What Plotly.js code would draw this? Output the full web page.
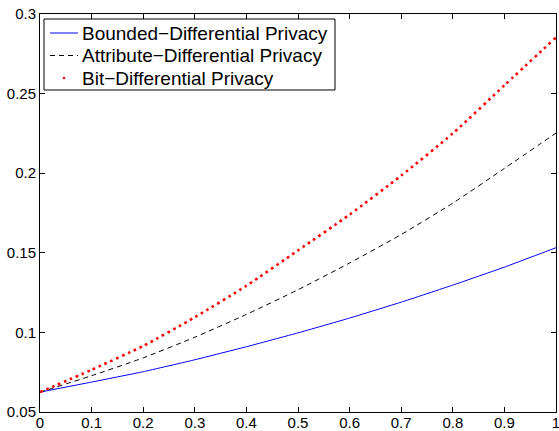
<!DOCTYPE html>
<html>
<head>
<meta charset="utf-8">
<script src="https://cdn.plot.ly/plotly-3.0.1.min.js"></script>
<style>html,body{margin:0;padding:0;background:#fff;}#chart{width:559px;height:431px;}</style>
</head>
<body>
<div id="chart"></div>
<script>
const xValues = [0, 0.1, 0.2, 0.3, 0.4, 0.5, 0.6, 0.7, 0.8, 0.9, 1.0];
const boundedDP = [0.0625, 0.0688, 0.0753, 0.0828, 0.0910, 0.0997, 0.1090, 0.1190, 0.1297, 0.1410, 0.1532];
const attributeDP = [0.0625, 0.0728, 0.0840, 0.0970, 0.1113, 0.1268, 0.1436, 0.1615, 0.1812, 0.2030, 0.2252];
const bitDP = [0.0625, 0.0765, 0.0915, 0.1095, 0.1293, 0.1515, 0.1740, 0.1985, 0.2250, 0.2552, 0.2853];
const seriesNames = ["Bounded\u2212Differential Privacy", "Attribute\u2212Differential Privacy", "Bit\u2212Differential Privacy"];
const xTickVals = [0, 0.1, 0.2, 0.3, 0.4, 0.5, 0.6, 0.7, 0.8, 0.9, 1];
const xTickText = ["0", "0.1", "0.2", "0.3", "0.4", "0.5", "0.6", "0.7", "0.8", "0.9", "1"];
const yTickVals = [0.05, 0.1, 0.15, 0.2, 0.25, 0.3];
const yTickText = ["0.05", "0.1", "0.15", "0.2", "0.25", "0.3"];

const FONT = "Liberation Sans, Arial, Helvetica, sans-serif";

// plot-area pixel helpers for the hand-drawn MATLAB-style legend (paper coords)
const PL = 40, PR = 556, PT = 14, PB = 412;
const px = v => (v - PL) / (PR - PL);
const py = v => (PB - v) / (PB - PT);

const traces = [
  {x: xValues, y: boundedDP, name: seriesNames[0], mode: "lines", line: {color: "#0000ff", width: 1, shape: "spline", smoothing: 0.3}},
  {x: xValues, y: attributeDP, name: seriesNames[1], mode: "lines", line: {color: "#000000", width: 1, dash: "5px,4px", shape: "spline", smoothing: 0.6}},
  {x: xValues, y: bitDP, name: seriesNames[2], mode: "lines", line: {color: "#ff0000", width: 2.6, dash: "2.6px,3.8px", shape: "spline", smoothing: 0.6}}
];

const axisCommon = {
  showgrid: false, zeroline: false, showline: true, linecolor: "#000", linewidth: 1,
  mirror: "ticks", ticks: "inside", ticklen: 5, tickcolor: "#000", tickwidth: 1,
  tickfont: {family: FONT, size: 15, color: "#000"}, tickmode: "array",
  ticklabeloverflow: "allow"
};

const rowY = [33, 55.5, 78];
const shapes = [
  {type: "rect", xref: "paper", yref: "paper", x0: px(44), x1: px(335), y0: py(19), y1: py(90),
   line: {color: "#000", width: 1}, fillcolor: "#fff", layer: "above"},
  {type: "line", xref: "paper", yref: "paper", x0: px(50), x1: px(78), y0: py(rowY[0]), y1: py(rowY[0]),
   line: {color: "#0000ff", width: 1}, layer: "above"},
  {type: "line", xref: "paper", yref: "paper", x0: px(50), x1: px(78), y0: py(rowY[1]), y1: py(rowY[1]),
   line: {color: "#000", width: 1, dash: "5px,4px"}, layer: "above"},
  {type: "circle", xref: "paper", yref: "paper", x0: px(62.8), x1: px(65.2), y0: py(rowY[2] - 1.2), y1: py(rowY[2] + 1.2),
   line: {width: 0}, fillcolor: "#ff0000", layer: "above"}
];
const annotations = seriesNames.map((t, i) => ({
  text: t, xref: "paper", yref: "paper", x: px(81), y: py(rowY[i]), xanchor: "left", yanchor: "middle",
  showarrow: false, font: {family: FONT, size: 19, color: "#000"}, borderpad: 0
}));

const layout = {
  width: 559, height: 431,
  margin: {l: 40, r: 3, t: 14, b: 19, pad: 0},
  paper_bgcolor: "#fff", plot_bgcolor: "#fff",
  showlegend: false,
  shapes: shapes,
  annotations: annotations,
  xaxis: Object.assign({}, axisCommon, {range: [0, 1], tickvals: xTickVals, ticktext: xTickText, ticklabelstandoff: -3}),
  yaxis: Object.assign({}, axisCommon, {range: [0.05, 0.3], tickvals: yTickVals, ticktext: yTickText})
};

Plotly.newPlot("chart", traces, layout, {displayModeBar: false, staticPlot: true});
</script>
</body>
</html>
